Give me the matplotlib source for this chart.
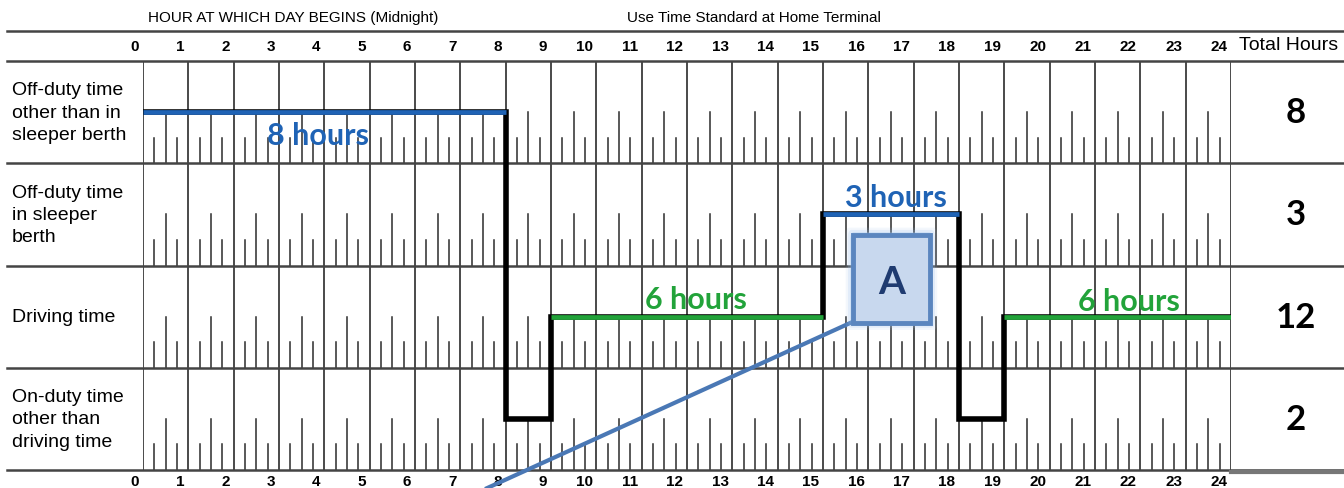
import matplotlib
matplotlib.use("Agg")
import matplotlib.pyplot as plt
import matplotlib.patches as mp

# log grid data
hours = list(range(25))
row_labels = ["Off-duty time\nother than in\nsleeper berth",
              "Off-duty time\nin sleeper\nberth",
              "Driving time",
              "On-duty time\nother than\ndriving time"]
totals = [8, 3, 12, 2]

# duty status segments (hour start, hour end, row)
seg_start = [0, 8, 9, 15, 18, 19]
seg_end = [8, 9, 15, 18, 19, 24]
seg_row = [0, 3, 2, 1, 3, 2]

# "x hours" callouts
note_text = ["8 hours", "3 hours", "6 hours", "6 hours"]
note_hour = [3.85, 16.6, 12.2, 21.75]
note_row = [0.72, 1.33, 2.33, 2.35]

blue = '#1f63b5'
green = '#22a33a'
row_color = {0: blue, 1: blue, 2: green, 3: 'black'}
grid_c = '#2b2b2b'
cfont = 'Lato'

fig = plt.figure(figsize=(13.44, 4.89), dpi=100)
ax = fig.add_axes([143 / 1344, 18 / 489, 1088 / 1344, 409 / 489])
ax.set_xlim(0, 24)
ax.set_ylim(4, 0)
ax.axis('off')

# hour lines and tick marks
for h in hours:
    ax.plot([h, h], [0, 4], color=grid_c, lw=1.2, zorder=1)
for r in range(len(row_labels)):
    for h in hours[:-1]:
        for q, ln in [(0.25, 0.25), (0.5, 0.5), (0.75, 0.25)]:
            ax.plot([h + q, h + q], [r + 1, r + 1 - ln], color=grid_c, lw=1.1, zorder=1)

# horizontal rules
for yy in [-0.294, 0, 1, 2, 3, 4]:
    ax.plot([-3.0, 26.6], [yy, yy], color='#444444', lw=1.8, clip_on=False, zorder=2)
ax.plot([24, 26.6], [4.015, 4.015], color='#777777', lw=3, clip_on=False, zorder=2)

# header texts
ax.text(3.31, -0.43, 'HOUR AT WHICH DAY BEGINS (Midnight)', ha='center', va='center',
        fontsize=11, family='Liberation Sans', clip_on=False)
ax.text(13.48, -0.43, 'Use Time Standard at Home Terminal', ha='center', va='center',
        fontsize=11, family='Liberation Sans', clip_on=False)
for h in hours:
    ax.text(h - 0.08, -0.15, str(h), ha='right', va='center', fontsize=11,
            fontweight='bold', family='Liberation Sans', clip_on=False)
    ax.text(h - 0.08, 4.11, str(h), ha='right', va='center', fontsize=11,
            fontweight='bold', family='Liberation Sans', clip_on=False)
ax.text(25.26, -0.16, 'Total Hours', ha='center', va='center', fontsize=14,
        family='Liberation Sans', clip_on=False)

# row labels and totals
for r, (lab, tot) in enumerate(zip(row_labels, totals)):
    ax.text(-2.89, r + 0.5, lab, ha='left', va='center', fontsize=14,
            family='Liberation Sans', linespacing=1.4, clip_on=False)
    ax.text(25.43, r + 0.5, str(tot), ha='center', va='center', fontsize=25,
            fontweight='bold', family=cfont, clip_on=False)

# duty status line
xs, ys = [], []
for s, e, r in zip(seg_start, seg_end, seg_row):
    xs += [s, e]
    ys += [r + 0.5, r + 0.5]
ax.plot(xs, ys, color='black', lw=4, solid_joinstyle='miter', zorder=4)
for s, e, r in zip(seg_start, seg_end, seg_row):
    if r != 3:
        ax.plot([s, e], [r + 0.5, r + 0.5], color=row_color[r], lw=3.4,
                solid_capstyle='butt', zorder=5)

for t, hx, ry in zip(note_text, note_hour, note_row):
    c = blue if ry < 2 else green
    ax.text(hx, ry, t, ha='center', va='center', fontsize=22, fontweight='bold',
            color=c, family=cfont, zorder=6)

# callout A
bx0, bx1, by0, by1 = 15.66, 17.36, 1.70, 2.56
ax.plot([bx0, 6.98], [by1 - 0.01, 4.3], color='#4a78b5', lw=3, clip_on=False,
        solid_capstyle='butt', zorder=6)
for k, a in [(0.16, 0.12), (0.11, 0.2), (0.06, 0.3)]:
    ax.add_patch(mp.FancyBboxPatch((bx0 - k, by0 - k * 0.44), bx1 - bx0 + 2 * k,
                                   by1 - by0 + 2 * k * 0.44, boxstyle='round,pad=0,rounding_size=0.08',
                                   facecolor='#9ec3ee', edgecolor='none', alpha=a, zorder=7))
ax.add_patch(mp.Rectangle((bx0, by0), bx1 - bx0, by1 - by0, facecolor='#c8d8ee',
                          edgecolor='#5b86bf', lw=3.5, zorder=8))
ax.text((bx0 + bx1) / 2, (by0 + by1) / 2 + 0.03, 'A', ha='center', va='center',
        fontsize=28, fontweight='bold', color='#1f3b70', family=cfont, zorder=9)

fig.savefig('out.png', dpi=100)
